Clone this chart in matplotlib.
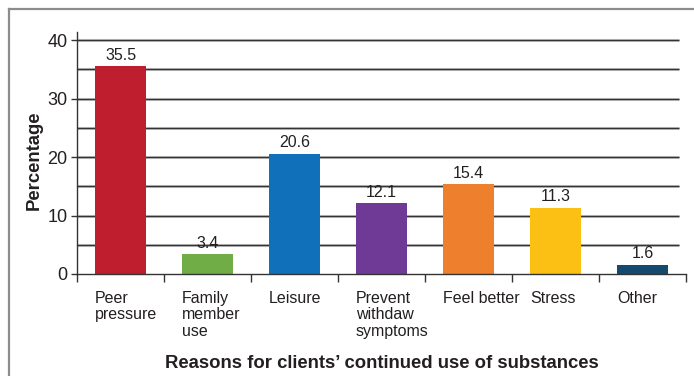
import numpy as np
import matplotlib.pyplot as plt
from matplotlib.lines import Line2D


reasons = [
    "Peer\npressure",
    "Family\nmember\nuse",
    "Leisure",
    "Prevent\nwithdaw\nsymptoms",
    "Feel better",
    "Stress",
    "Other",
]
percentages = [35.5, 3.4, 20.6, 12.1, 15.4, 11.3, 1.6]
bar_colors = [
    "#BE1E2D",
    "#70AD47",
    "#1170BA",
    "#6F3996",
    "#EE7F2D",
    "#FCBF14",
    "#134A6E",
]
y_ticks = [0, 10, 20, 30, 40]

NARROW = ["Liberation Sans Narrow", "Liberation Sans", "DejaVu Sans"]
BOLD = ["Liberation Sans", "DejaVu Sans"]
TEXT_COLOR = "#231F20"
BAR_WIDTH = 0.59

fig = plt.figure(figsize=(6.94, 3.76), dpi=100)

# grey frame around the figure (top and left edges)
fig.add_artist(Line2D([0.013, 0.013], [0.0, 0.976], transform=fig.transFigure,
                      color="#8C8C8C", lw=1.6))
fig.add_artist(Line2D([0.013, 1.0], [0.976, 0.976], transform=fig.transFigure,
                      color="#8C8C8C", lw=1.6))

ax = fig.add_axes([0.111, 0.2713, 0.8775, 0.6436])

x = np.arange(len(reasons))

for level in range(5, 45, 5):
    ax.hlines(level, -0.5, 6.42, color="#C8C8C8", lw=2.2, zorder=0.5)
    ax.hlines(level, -0.5, 6.42, color="#333333", lw=1.0, zorder=1)

ax.bar(x, percentages, width=BAR_WIDTH, color=bar_colors, zorder=2)

for xi, val in zip(x, percentages):
    ax.annotate(f"{val}", (xi, val), xytext=(0, 2.5), textcoords="offset points",
                ha="center", va="bottom", fontsize=11.5, color=TEXT_COLOR,
                family=NARROW)

ax.set_xlim(-0.5, 6.5)
ax.set_ylim(0, 41.4)

ax.set_yticks(y_ticks)
ax.set_yticklabels([str(t) for t in y_ticks], family=NARROW, fontsize=13,
                   color=TEXT_COLOR)
ax.tick_params(axis="y", length=4, width=1, color="#333333", pad=3)

ax.set_xticks(x - BAR_WIDTH / 2)
ax.set_xticklabels(reasons, family=NARROW, fontsize=11.5, color=TEXT_COLOR,
                   ha="left", va="top", linespacing=1.12)
ax.set_xticks(np.arange(-0.5, 7, 1), minor=True)
ax.tick_params(axis="x", which="major", length=0, pad=12)
ax.tick_params(axis="x", which="minor", length=6, width=1, color="#333333")

for side in ["top", "right"]:
    ax.spines[side].set_visible(False)
for side in ["left", "bottom"]:
    ax.spines[side].set_color("#333333")
    ax.spines[side].set_linewidth(1.0)

ax.set_ylabel("Percentage", family=BOLD, fontweight="bold", fontsize=13.3,
              color=TEXT_COLOR)
ax.yaxis.set_label_coords(-0.057, 0.47)
ax.set_xlabel("Reasons for clients\u2019 continued use of substances",
              family=BOLD, fontweight="bold", fontsize=13.3, color=TEXT_COLOR)
ax.xaxis.set_label_coords(0.5, -0.335)

fig.savefig("out.png", dpi=100)
